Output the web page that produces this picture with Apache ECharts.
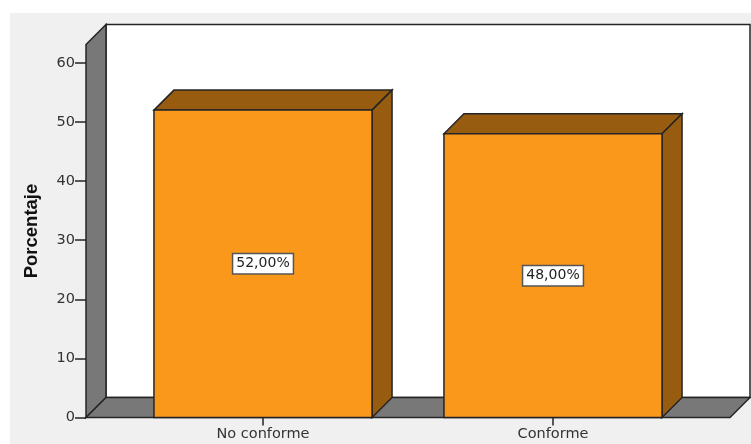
<!DOCTYPE html>
<html>
<head>
<meta charset="utf-8">
<style>html,body{margin:0;padding:0;background:#fff}#c{width:751px;height:444px}</style>
<script src="https://cdn.jsdelivr.net/npm/echarts@6/dist/echarts.min.js"></script>
</head>
<body>
<div id="c"></div>
<script>
const categories = ['No conforme', 'Conforme'];
const percentages = [52, 48];
const yTicks = [0, 10, 20, 30, 40, 50, 60];
const yTitle = 'Porcentaje';

const DEPTH = 20, SIDE_PAD = 32, BAR_RATIO = 0.752;
const INK = '#242424', ORANGE = '#FA981C', ORANGE_DARK = '#985C10', GREY = '#787878';
const data = percentages.map((v, i) => [i, v]);

function poly(points, fill, z2) {
  return {type: 'polygon', z2: z2 || 0, shape: {points},
    style: {fill, stroke: INK, lineWidth: 1.5, lineJoin: 'miter'}};
}

function renderFrame(params) {
  const c = params.coordSys;
  const l = c.x - SIDE_PAD, r = c.x + c.width + SIDE_PAD, t = c.y, b = c.y + c.height, d = DEPTH;
  return {type: 'group', children: [
    poly([[l + d, t - d], [r + d, t - d], [r + d, b - d], [l + d, b - d]], '#fff'),
    poly([[l, t], [l + d, t - d], [l + d, b - d], [l, b]], GREY),
    poly([[l, b], [l + d, b - d], [r + d, b - d], [r, b]], GREY)
  ]};
}

function renderBar(params, api) {
  const top = api.coord([api.value(0), api.value(1)]);
  const base = api.coord([api.value(0), 0]);
  const w = api.size([1, 0])[0] * BAR_RATIO, d = DEPTH;
  const x0 = top[0] - w / 2, x1 = top[0] + w / 2, y0 = top[1], y1 = base[1];
  const label = api.value(1).toFixed(2).replace('.', ',') + '%';
  return {type: 'group', children: [
    poly([[x0, y0], [x0 + d, y0 - d], [x1 + d, y0 - d], [x1, y0]], ORANGE_DARK),
    poly([[x1, y0], [x1 + d, y0 - d], [x1 + d, y1 - d], [x1, y1]], ORANGE_DARK),
    poly([[x0, y0], [x1, y0], [x1, y1], [x0, y1]], ORANGE),
    {type: 'text', z2: 5, style: {
      x: top[0], y: (y0 + y1) / 2, text: label, align: 'center', verticalAlign: 'middle',
      fontFamily: 'DejaVu Sans', fontSize: 14, fill: '#222',
      backgroundColor: '#fff', borderColor: '#555', borderWidth: 1.5,
      padding: [3, 3, 2, 3]
    }}
  ]};
}

const chart = echarts.init(document.getElementById('c'), null, {renderer: 'canvas'});
chart.setOption({
  animation: false,
  backgroundColor: 'transparent',
  graphic: [{type: 'rect', z: -10, shape: {x: 10, y: 13, width: 741, height: 431}, style: {fill: '#F0F0F0'}}],
  grid: {left: 118, top: 44.5, width: 580, height: 373},
  xAxis: {
    type: 'category', data: categories, z: 1,
    axisLine: {show: false},
    axisTick: {show: true, alignWithLabel: true, length: 8, lineStyle: {color: INK, width: 1.5}},
    axisLabel: {fontFamily: 'DejaVu Sans', fontSize: 14.5, color: '#333', margin: 9}
  },
  yAxis: {
    type: 'value', min: 0, max: 63.1, offset: SIDE_PAD,
    name: yTitle, nameLocation: 'middle', nameGap: 45,
    nameTextStyle: {fontFamily: 'Liberation Sans', fontWeight: 'bold', fontSize: 18.5, color: '#111'},
    splitLine: {show: false},
    axisLine: {show: false},
    axisTick: {show: true, length: 11, customValues: yTicks, lineStyle: {color: INK, width: 1.5}},
    axisLabel: {customValues: yTicks, fontFamily: 'DejaVu Sans', fontSize: 14.5, color: '#333', margin: 11}
  },
  series: [
    {type: 'custom', coordinateSystem: 'cartesian2d', data: [[0, 0]], renderItem: renderFrame, clip: false, silent: true, z: 1},
    {type: 'custom', coordinateSystem: 'cartesian2d', data, renderItem: renderBar, clip: false, encode: {x: 0, y: 1}, z: 2}
  ]
});
</script>
</body>
</html>
